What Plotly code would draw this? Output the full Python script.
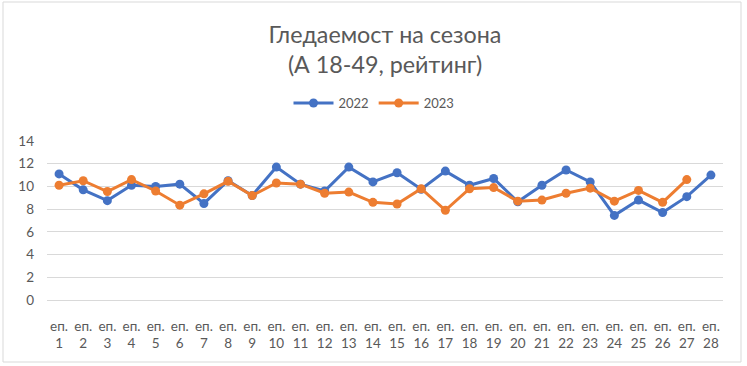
import plotly.graph_objects as go

episodes = [f"еп.<br>{i}" for i in range(1, 29)]
s2022 = [11.1, 9.7, 8.75, 10.1, 10.0, 10.2, 8.5, 10.5, 9.2, 11.7, 10.2, 9.6, 11.7, 10.4,
         11.2, 9.75, 11.35, 10.1, 10.7, 8.65, 10.1, 11.45, 10.4, 7.45, 8.8, 7.7, 9.1, 11.0]
s2023 = [10.1, 10.5, 9.55, 10.6, 9.6, 8.35, 9.35, 10.45, 9.2, 10.3, 10.2, 9.4, 9.5, 8.6,
         8.45, 9.8, 7.9, 9.8, 9.9, 8.7, 8.8, 9.4, 9.85, 8.7, 9.65, 8.6, 10.6]
yticks = [0, 2, 4, 6, 8, 10, 12, 14]

FONT = "Lato"
GRAY = "#595959"

fig = go.Figure()
fig.add_trace(go.Scatter(x=episodes, y=s2022, name="2022", mode="lines+markers",
                         line=dict(color="#4472C4", width=3), marker=dict(size=9, color="#4472C4")))
fig.add_trace(go.Scatter(x=episodes[:len(s2023)], y=s2023, name="2023", mode="lines+markers",
                         line=dict(color="#ED7D31", width=3), marker=dict(size=9, color="#ED7D31")))

L, R, T, B = 47, 24, 141, 66
W, H = 747, 366
pw, ph = W - L - R, H - T - B

def px(x):
    return (x - L) / pw

def py(y):
    return (H - B - y) / ph

fig.update_layout(
    width=W, height=H,
    margin=dict(l=L, r=R, t=T, b=B, autoexpand=False),
    paper_bgcolor="white", plot_bgcolor="white",
    font=dict(family=FONT, color=GRAY, size=13),
    title=dict(text="Гледаемост на сезона<br>(А 18-49, рейтинг)",
               x=0.5, xanchor="center", xref="paper", y=1 - 43 / H, yanchor="middle", yref="container",
               font=dict(family=FONT, size=23.3, color=GRAY)),
    legend=dict(orientation="h", x=px(374), xanchor="center", y=py(103), yanchor="middle",
                font=dict(size=13, color=GRAY), itemwidth=40, bgcolor="rgba(0,0,0,0)"),
    xaxis=dict(type="category", range=[-0.5, 27.5], showgrid=False, showline=False, zeroline=False,
               tickfont=dict(size=13.5, color=GRAY), ticks="", ticklabelstandoff=16, fixedrange=True),
    yaxis=dict(range=[0, 14], tickvals=yticks, showgrid=True, gridcolor="#D9D9D9", gridwidth=1,
               zeroline=True, zerolinecolor="#D9D9D9", zerolinewidth=1, showline=False,
               tickfont=dict(size=13.5, color=GRAY), ticks="", ticklabelstandoff=12),
    shapes=[dict(type="rect", xref="paper", yref="paper",
                 x0=px(3), x1=px(741), y0=py(362), y1=py(2),
                 line=dict(color="#D9D9D9", width=1), fillcolor="rgba(0,0,0,0)", layer="below")],
)

fig.write_html("out.html", config={"displayModeBar": False},
               post_script="document.body.style.margin='0';")
